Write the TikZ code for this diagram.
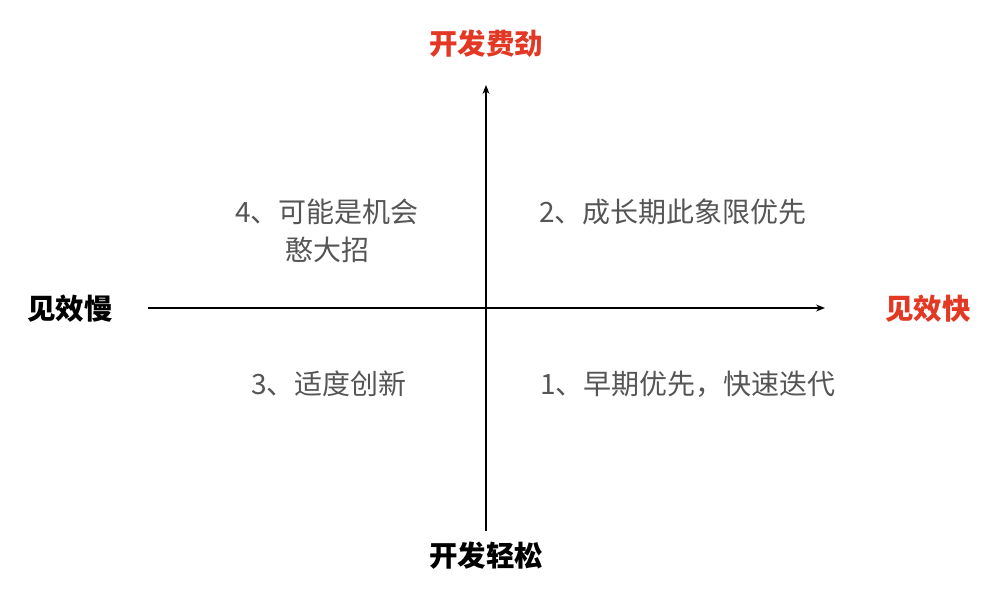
\documentclass[tikz,border=0pt]{standalone}
\usepackage{fontspec}
\setmainfont{Noto Sans CJK SC}
\usetikzlibrary{arrows.meta}
\definecolor{myred}{RGB}{226,56,36}
\definecolor{mygray}{RGB}{85,85,85}
\tikzset{
 axis/.style={line width=1.2pt,-{Stealth[length=9pt,width=7pt]}},
 title/.style={font=\fontsize{28.5}{32}\selectfont\bfseries},
 quad/.style={font=\fontsize{28}{38}\selectfont,text=mygray,align=center}
}
\begin{document}
\begin{tikzpicture}[x=1pt,y=-1pt]
\useasboundingbox (0,0) rectangle (988,592);
\coordinate (L) at (148,308);
\coordinate (R) at (825,308);
\coordinate (B) at (486,531);
\coordinate (T) at (486,85);
\draw[axis] (L) -- (R);
\draw[axis] (B) -- (T);
\node[title,text=myred] (top) at (486,44) {开发费劲};
\node[title] (bot) at (486,556) {开发轻松};
\node[title] (left) at (70,309) {见效慢};
\node[title,text=myred] (right) at (928,309) {见效快};
\node[quad] (q4) at (327,231) {4、可能是机会\\憨大招};
\node[quad] (q2) at (673,212) {2、成长期此象限优先};
\node[quad] (q3) at (329,384) {3、适度创新};
\node[quad] (q1) at (688,384) {1、早期优先，快速迭代};
\end{tikzpicture}
\end{document}
